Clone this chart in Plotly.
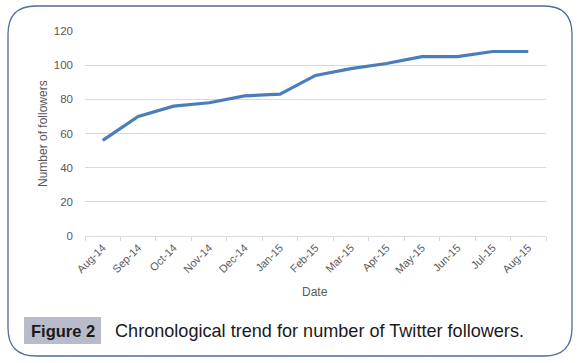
import plotly.graph_objects as go

dates = ["Aug-14", "Sep-14", "Oct-14", "Nov-14", "Dec-14", "Jan-15", "Feb-15",
         "Mar-15", "Apr-15", "May-15", "Jun-15", "Jul-15", "Aug-15"]
followers = [56, 70, 76, 78, 82, 83, 94, 98, 101, 105, 105, 108, 108]
y_ticks = [0, 20, 40, 60, 80, 100, 120]

W, H = 578, 363
L, R, T, B = 85, 546, 31, 236  # plot area in pixels


def px(x):
    return (x - L) / (R - L)


def py(y):
    return (B - y) / (B - T)


fig = go.Figure()
fig.add_trace(go.Scatter(
    x=dates, y=followers, mode="lines",
    line=dict(color="#4a7ebb", width=3.2),
    hoverinfo="skip", showlegend=False,
))

# rounded border
x0, x1, y0, y1, r = 8, 572, 6, 356, 28
path = (
    f"M {px(x0+r)},{py(y0)} L {px(x1-r)},{py(y0)} "
    f"Q {px(x1)},{py(y0)} {px(x1)},{py(y0+r)} "
    f"L {px(x1)},{py(y1-r)} Q {px(x1)},{py(y1)} {px(x1-r)},{py(y1)} "
    f"L {px(x0+r)},{py(y1)} Q {px(x0)},{py(y1)} {px(x0)},{py(y1-r)} "
    f"L {px(x0)},{py(y0+r)} Q {px(x0)},{py(y0)} {px(x0+r)},{py(y0)} Z"
)
shapes = [
    dict(type="path", path=path, xref="paper", yref="paper",
         line=dict(color="#4e6c9c", width=1.3), layer="below"),
    dict(type="rect", xref="paper", yref="paper",
         x0=px(24), x1=px(101), y0=py(317), y1=py(344),
         fillcolor="#b8bcca", line=dict(width=0), layer="below"),
]

font = "Liberation Sans, Arial, sans-serif"
annotations = [
    dict(text="<b>Figure 2</b>", x=px(62.5), y=py(331), xref="paper", yref="paper",
         showarrow=False, xanchor="center", yanchor="middle",
         font=dict(family=font, size=16.5, color="#1a1a1a")),
    dict(text="Chronological trend for number of Twitter followers.",
         x=px(113), y=py(331), xref="paper", yref="paper",
         showarrow=False, xanchor="left", yanchor="middle",
         font=dict(family=font, size=18.1, color="#1a1a1a")),
    dict(text="Date", x=px(315), y=py(292), xref="paper", yref="paper",
         showarrow=False, xanchor="center", yanchor="middle",
         font=dict(family=font, size=12, color="#595959")),
    dict(text="Number of followers", x=px(43), y=py(134), xref="paper", yref="paper",
         showarrow=False, xanchor="center", yanchor="middle", textangle=-90,
         font=dict(family=font, size=12, color="#595959")),
]

fig.update_layout(
    width=W, height=H,
    margin=dict(l=L, r=W - R, t=T, b=H - B, pad=0),
    paper_bgcolor="white", plot_bgcolor="white",
    shapes=shapes, annotations=annotations,
    font=dict(family=font, size=11, color="#595959"),
    xaxis=dict(
        type="category", categoryorder="array", categoryarray=dates,
        tickmode="array", tickvals=dates, ticktext=dates,
        tickangle=-45, tickson="boundaries", ticks="outside", ticklen=4,
        tickcolor="#d9d9d9", showline=True, linecolor="#d9d9d9", linewidth=1,
        showgrid=False, tickfont=dict(size=11, color="#595959"),
        range=[-0.5, len(dates) - 0.5], fixedrange=True,
    ),
    yaxis=dict(
        range=[0, 120], tickmode="array", tickvals=y_ticks,
        showgrid=True, gridcolor="#d9d9d9", gridwidth=1,
        zeroline=False, showline=False, ticks="", ticklabelstandoff=11,
        tickfont=dict(size=11.5, color="#595959"), fixedrange=True,
    ),
)

fig.write_html("out.html", config={"displayModeBar": False},
               post_script="document.body.style.margin='0';")
